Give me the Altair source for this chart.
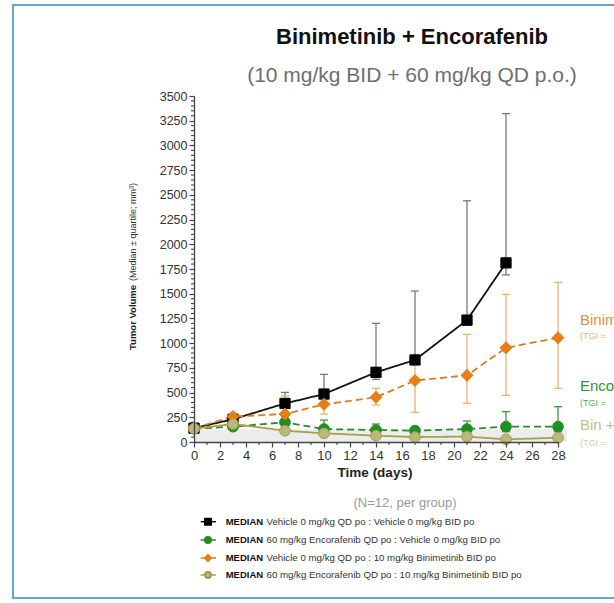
import altair as alt
import pandas as pd

FONT = "Liberation Sans"

# ---------------- data ----------------
days_all = [0, 3, 7, 10, 14, 17, 21, 24, 28]

veh_days = [0, 3, 7, 10, 14, 17, 21, 24]
veh_med = [140, 230, 390, 485, 705, 830, 1233, 1812]
veh_lo = [125, 200, 345, 440, 634, 795, 1180, 1690]
veh_hi = [155, 255, 502, 684, 1200, 1527, 2440, 3322]

enc_days = days_all
enc_med = [135, 155, 199, 131, 121, 115, 131, 155, 155]
enc_lo = [120, 135, 165, 100, 92, 92, 95, 105, 104]
enc_hi = [150, 175, 240, 222, 182, 150, 212, 307, 357]

bin_days = days_all
bin_med = [140, 258, 283, 381, 452, 622, 674, 953, 1055]
bin_lo = [125, 225, 250, 283, 374, 300, 391, 472, 543]
bin_hi = [155, 290, 465, 470, 543, 800, 1089, 1493, 1615]

combo_days = days_all
combo_med = [135, 182, 114, 88, 64, 50, 55, 27, 43]
combo_lo = [120, 160, 92, 68, 47, 36, 38, 15, 27]
combo_hi = [150, 200, 136, 108, 82, 66, 72, 42, 58]

legend_labels = [
    "Vehicle 0 mg/kg QD po : Vehicle 0 mg/kg BID po",
    "60 mg/kg Encorafenib QD po : Vehicle 0 mg/kg BID po",
    "Vehicle 0 mg/kg QD po : 10 mg/kg Binimetinib BID po",
    "60 mg/kg Encorafenib QD po : 10 mg/kg Binimetinib BID po",
]

x_major = list(range(0, 29, 2))
x_minor = list(range(1, 29, 2))
y_major = list(range(0, 3501, 250))
y_minor = [v for v in range(0, 3501, 50) if v % 250 != 0]

band_x = [0, 28.7]
band_y = [0, 130]

# ---------------- scales / axes ----------------
W, H = 364, 346
xs = alt.Scale(domain=[0, 28], nice=False, zero=False)
ys = alt.Scale(domain=[0, 3500], nice=False)
xaxis = alt.Axis(values=x_major, title=None, grid=False, tickSize=5, labelFontSize=13,
                 labelPadding=2, labelColor="#333", domainColor="#444", tickColor="#444",
                 domainWidth=1.3, tickWidth=1.2, labelFont=FONT, zindex=2,
                 labelFlush=False, labelOverlap=False, format="d")
yaxis = alt.Axis(values=y_major, title=None, grid=False, tickSize=5, labelFontSize=12.5,
                 labelPadding=2, labelColor="#333", domainColor="#444", tickColor="#444",
                 domainWidth=1.3, tickWidth=1.2, labelFont=FONT, zindex=2,
                 labelFlush=False, labelOverlap=False, format="d")


def X(f):
    return alt.X(f, type="quantitative", scale=xs, axis=xaxis)


def Y(f):
    return alt.Y(f, type="quantitative", scale=ys, axis=yaxis)


one = pd.DataFrame({"k": [0]})
layers = []

# frame
layers.append(alt.Chart(one).mark_rect(fill="white", stroke="#5fa8dc", strokeWidth=2).encode(
    x=alt.value(-181), x2=alt.value(440), y=alt.value(-91), y2=alt.value(502)))

# gray baseline band
band_df = pd.DataFrame({"x0": [band_x[0]], "x1": [band_x[1]], "y0": [band_y[0]], "y1": [band_y[1]]})
layers.append(alt.Chart(band_df).mark_rect(color="#ececec").encode(
    x=X("x0"), x2="x1", y=Y("y0"), y2="y1"))

# minor ticks
layers.append(alt.Chart(pd.DataFrame({"v": x_minor})).mark_rule(color="#444", strokeWidth=1.1).encode(
    x=X("v"), y=alt.value(H), y2=alt.value(H + 3)))
layers.append(alt.Chart(pd.DataFrame({"v": y_minor})).mark_rule(color="#444", strokeWidth=1.1).encode(
    y=Y("v"), x=alt.value(0), x2=alt.value(-3)))

series = [
    dict(d=veh_days, m=veh_med, lo=veh_lo, hi=veh_hi, line="#111111", err="#7a7a7a",
         pt="#000000", stroke="#000000", shape="square", size=105, dash=[1, 0]),
    dict(d=enc_days, m=enc_med, lo=enc_lo, hi=enc_hi, line="#2a8a2a", err="#3f9a3f",
         pt="#1f8f1f", stroke="#1f8f1f", shape="circle", size=115, dash=[7, 4]),
    dict(d=bin_days, m=bin_med, lo=bin_lo, hi=bin_hi, line="#e07b1a", err="#eeb070",
         pt="#e67e1a", stroke="#e67e1a", shape="diamond", size=145, dash=[7, 4]),
    dict(d=combo_days, m=combo_med, lo=combo_lo, hi=combo_hi, line="#a8a048", err="#c6c28a",
         pt="#bbb879", stroke="#a09c58", shape="circle", size=115, dash=[1, 0]),
]

err_layers, line_layers, pt_layers = [], [], []
for s in series:
    df = pd.DataFrame({"day": s["d"], "med": s["m"], "lo": s["lo"], "hi": s["hi"]})
    b = alt.Chart(df)
    err_layers.append(b.mark_rule(color=s["err"], strokeWidth=1.3).encode(x=X("day"), y=Y("lo"), y2="hi"))
    err_layers.append(b.mark_rule(color=s["err"], strokeWidth=1.3, xOffset=-4, x2Offset=4).encode(
        x=X("day"), x2="day", y=Y("lo")))
    err_layers.append(b.mark_rule(color=s["err"], strokeWidth=1.3, xOffset=-4, x2Offset=4).encode(
        x=X("day"), x2="day", y=Y("hi")))
    line_layers.append(b.mark_line(color=s["line"], strokeWidth=1.8, strokeDash=s["dash"]).encode(
        x=X("day"), y=Y("med")))
    pt_layers.append(b.mark_point(shape=s["shape"], filled=True, size=s["size"], fill=s["pt"],
                                  stroke=s["stroke"], strokeWidth=1, opacity=1).encode(
        x=X("day"), y=Y("med")))

layers += err_layers + line_layers + pt_layers


def txt(text, x, y, size, color="#222", weight="normal", align="center", angle=0, baseline="middle"):
    kw = dict(text=text, fontSize=size, color=color, fontWeight=weight, align=align,
              baseline=baseline, font=FONT)
    if angle:
        kw["angle"] = angle
    return alt.Chart(one).mark_text(**kw).encode(x=alt.value(x), y=alt.value(y))


# titles
layers.append(txt("Binimetinib + Encorafenib", 218, -59, 22, "#111", "bold"))
layers.append(txt("(10 mg/kg BID + 60 mg/kg QD p.o.)", 218, -20, 21, "#6e6e6e"))
layers.append(txt("Time (days)", 181, 377, 13.5, "#222", "bold"))
layers.append(txt("(N=12, per group)", 211, 407, 13, "#9a9a9a"))
layers.append(txt("Tumor Volume", -61, 254, 9.5, "#222", "bold", "left", 270))
layers.append(txt("(Median \u00b1 quartile; mm\u00b3)", -61, 185, 9, "#333", "normal", "left", 270))

# right annotations
layers.append(txt("Binimetinib", 386, 224, 15, "#e0913a", "normal", "left"))
layers.append(txt("(TGI =", 386, 240, 9, "#e8b078", "normal", "left"))
layers.append(txt("Encorafenib", 386, 290, 15, "#2e962e", "normal", "left"))
layers.append(txt("(TGI =", 386, 307, 9, "#5aa85a", "normal", "left"))
layers.append(txt("Bin + Enc", 386, 329, 15, "#c4c08a", "normal", "left"))
layers.append(txt("(TGI =", 386, 347, 9, "#d2cfa4", "normal", "left"))

# legend
leg_y = [425.7, 444, 462, 479]
for s, lab, yy in zip(series, legend_labels, leg_y):
    layers.append(alt.Chart(one).mark_rule(color=s["line"], strokeWidth=1.5).encode(
        x=alt.value(6.7), x2=alt.value(22), y=alt.value(yy)))
    layers.append(alt.Chart(one).mark_point(shape=s["shape"], filled=True, size=36, fill=s["pt"],
                                            stroke=s["stroke"], opacity=1).encode(
        x=alt.value(14), y=alt.value(yy)))
    layers.append(txt("MEDIAN", 31.7, yy, 9.5, "#111", "bold", "left"))
    layers.append(txt(lab, 72.5, yy, 9.7, "#333", "normal", "left"))

chart = alt.layer(*layers).properties(
    width=W, height=H,
    autosize=alt.AutoSizeParams(type="none"),
    padding={"left": 194, "top": 96, "right": 56, "bottom": 161},
    background="white",
).configure_view(stroke=None)

chart.save("out.html", embed_options={"renderer": "svg", "actions": False})
